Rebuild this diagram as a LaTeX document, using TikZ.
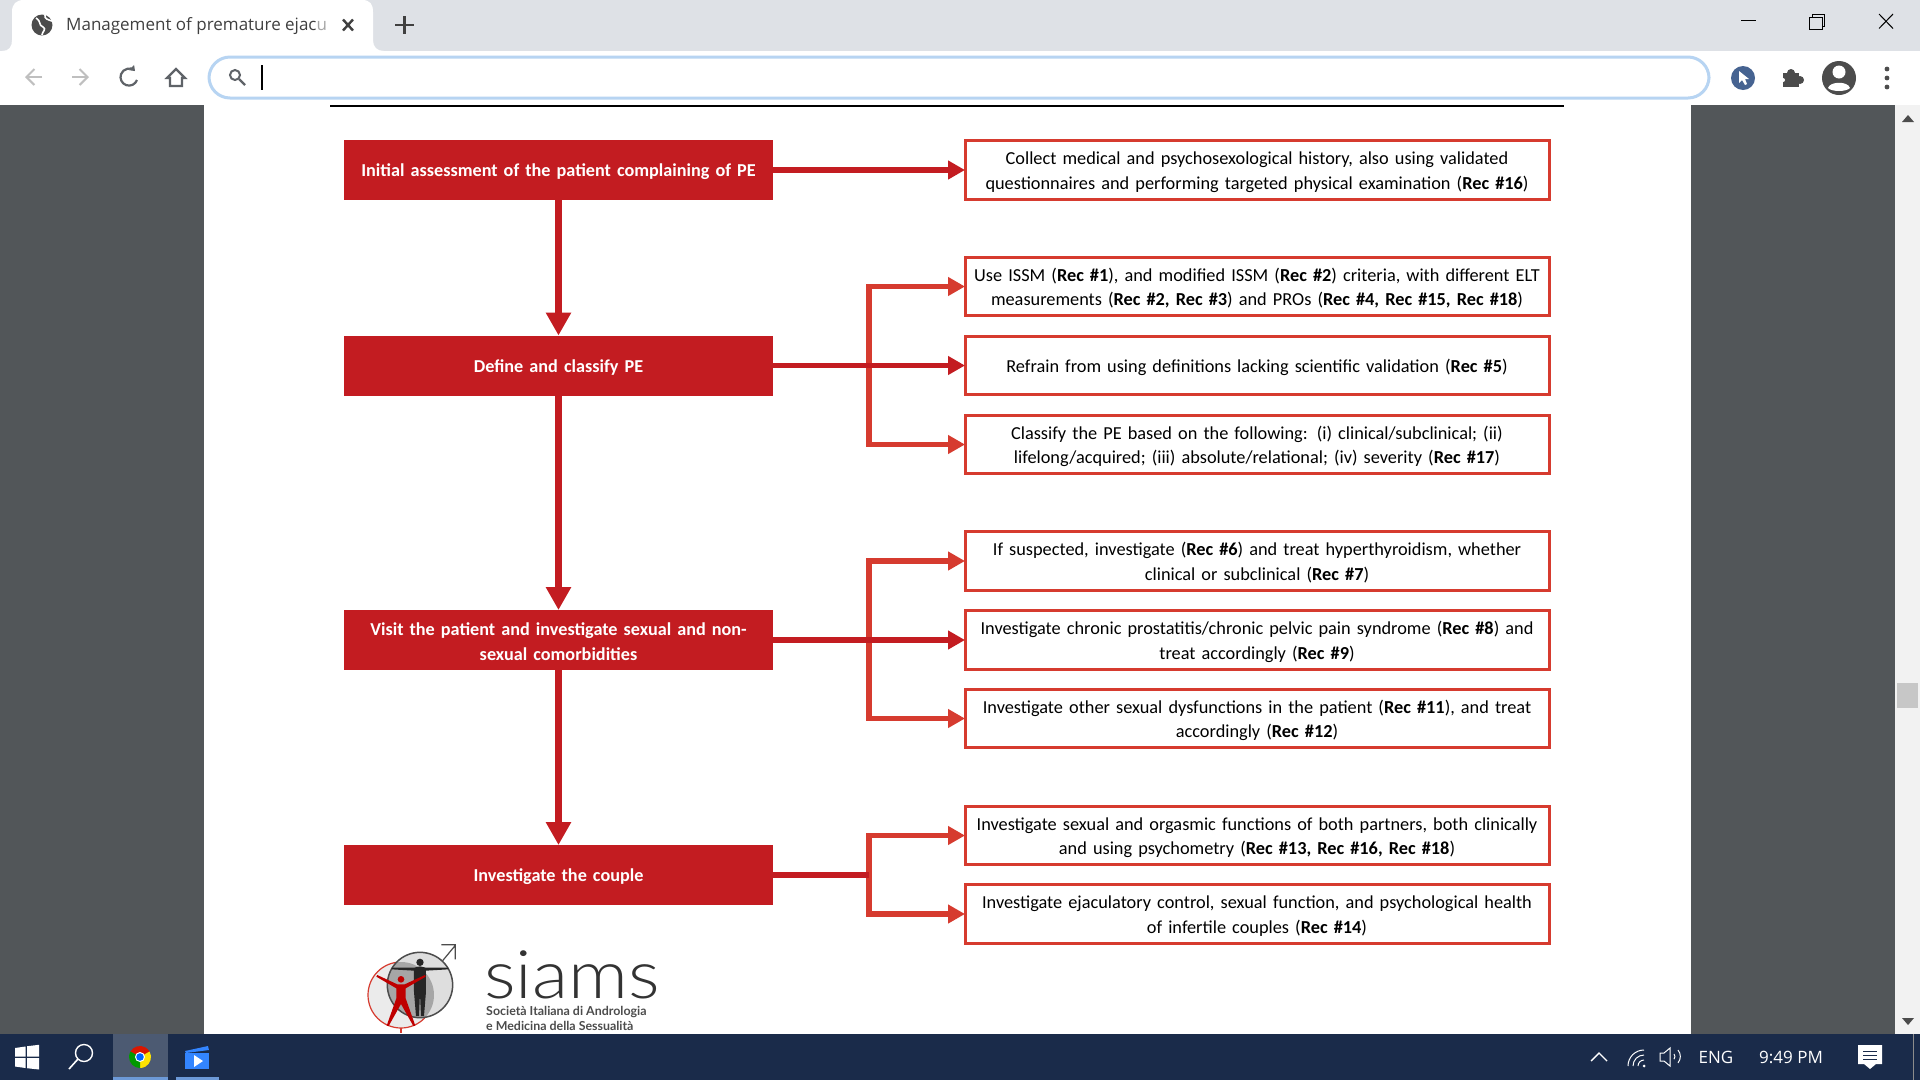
\documentclass[tikz,border=0pt]{standalone}
\usepackage{fontspec}
\setmainfont[WordSpace=0.85]{Carlito}
\newfontfamily\uifont{Open Sans}
\newfontfamily\logofont{Lato Light}
\newfontfamily\logosub{Lato}
\usetikzlibrary{arrows.meta, positioning}
\definecolor{mainred}{HTML}{C31C21}
\definecolor{sidered}{HTML}{D63B2F}
\definecolor{viewergray}{HTML}{525659}
\definecolor{tabbar}{HTML}{DEE1E6}
\definecolor{taskblue}{HTML}{1A2B4A}
\definecolor{iconblue}{HTML}{466391}
\definecolor{iconline}{HTML}{5F6368}
\definecolor{focusblue}{HTML}{B7D4F2}
\tikzset{
  stagebox/.style={fill=mainred, draw=none, minimum width=429pt, minimum height=60pt, text width=410pt, align=center,
    text=white, font=\fontsize{18.2}{24.5}\selectfont\bfseries, inner sep=0pt, outer sep=0pt,
    execute at begin node={\rule{0pt}{16.5pt}}},
  recbox/.style={fill=white, draw=sidered, line width=3pt, minimum width=584pt, minimum height=58.5pt, text width=578pt,
    align=center, text=black, font=\fontsize{18.3}{24.5}\selectfont, inner sep=0pt, outer sep=0pt,
    execute at begin node={\rule{0pt}{17pt}}},
  stemarrow/.style={draw=mainred, line width=7pt, -{Triangle[length=23pt,width=24pt]}},
  mainarrow/.style={draw=mainred, line width=5.5pt, -{Triangle[length=17pt,width=18pt]}},
  sidearrow/.style={draw=sidered, line width=5.5pt, -{Triangle[length=17pt,width=18pt]}},
  uitext/.style={font=\uifont\fontsize{17}{20}\selectfont, inner sep=0pt},
  traytext/.style={uitext, text=white},
}
\begin{document}
\begin{tikzpicture}[x=1pt,y=-1pt]
\useasboundingbox (0,0) rectangle (1920,1080);

% window
\fill [viewergray] (0,0) rectangle (1920,1080);
\fill [tabbar] (0,0) rectangle (1920,51);
\fill [white] (0,51) rectangle (1920,105);
\fill [white] (204,105) rectangle (1691,1034);
\fill [black] (330,105) rectangle (1564,107);
\fill [white!95!black] (1895,105) rectangle (1920,1034);
\fill [black!22] (1897,683) rectangle (1918,708);
\fill [black!70] (1902,122) -- (1908,115) -- (1914,122) -- cycle;
\fill [black!70] (1902,1018) -- (1908,1025) -- (1914,1018) -- cycle;

% tab
\fill [white] (2,51) .. controls (9,51) and (12,47) .. (12,40) -- (12,12)
  .. controls (12,4) and (16,0) .. (24,0) -- (362,0)
  .. controls (370,0) and (373,4) .. (373,12) -- (373,40)
  .. controls (373,47) and (377,51) .. (384,51) -- cycle;
\fill [black!70] (42,25) circle (10.5);
\draw [white, line width=1.6pt] (36,18) .. controls (42,22) and (38,25) .. (43,27) .. controls (47,29) and (42,32) .. (42,35);
\draw [white, line width=1.6pt] (45,15) .. controls (44,19) and (49,20) .. (52,21);
\node [uitext, anchor=west, text=black!75] (tabtitle) at (66,26.5) {Management of premature ejac\textcolor{black!35}{u}};
\draw [black!75, line width=2.4pt] (343,19.5) -- (353,30.5) (353,19.5) -- (343,30.5);
\draw [black!75, line width=2.4pt] (395,25) -- (414,25) (404.5,16) -- (404.5,34);

% toolbar
\draw [black!25, line width=2pt, -{Straight Barb[length=8pt,width=16pt]}] (42,77) -- (25,77);
\draw [black!25, line width=2pt, -{Straight Barb[length=8pt,width=16pt]}] (72,77) -- (89,77);
\draw [iconline, line width=2.2pt, -{Triangle[length=5pt,width=7pt]}] (137,80) arc (20:315:8.5);
\draw [iconline, line width=2.2pt] (176,69) -- (167,78) -- (170,78) -- (170,86) -- (182,86) -- (182,78) -- (185,78) -- cycle;
\draw [focusblue, line width=3pt, rounded corners=21pt] (209,57) rectangle (1709,98);
\draw [iconline, line width=2pt] (235,75) circle (5);
\draw [iconline, line width=2.4pt] (239,79) -- (245,85);
\draw [black, line width=1.4pt] (262,65) -- (262,90);
\fill [iconblue] (1743,78) circle (12);
\fill [white] (1739,71) -- (1739,83) -- (1742,80) -- (1745,85) -- (1747,84) -- (1745,79) -- (1749,79) -- cycle;
\fill [black!70] (1783,73) rectangle (1799,87);
\fill [black!70] (1791,73) circle (4) (1800,80) circle (4);
\fill [white] (1783,80) circle (2);
\fill [black!70] (1839,78) circle (17);
\fill [white] (1839,72) circle (6.5);
\fill [white] (1828,88) .. controls (1830,81) and (1848,81) .. (1850,88) .. controls (1846,92) and (1832,92) .. (1828,88);
\foreach \y in {69,78,87}
  \fill [black!70] (1887,\y) circle (2.4);

% window buttons
\draw [black, line width=1pt] (1741,20.5) -- (1756,20.5);
\draw [black, line width=1pt] (1809.5,17.5) rectangle (1822,29);
\draw [black, line width=1pt] (1812.5,17.5) -- (1812.5,14.5) -- (1824.5,14.5) -- (1824.5,26.5) -- (1822,26.5);
\draw [black, line width=1pt] (1879,14) -- (1893,28.5) (1893,14) -- (1879,28.5);

% stages
\node [stagebox] (initbox) at (558.5,170) {Initial assessment of the patient complaining of PE};
\node [stagebox] (definebox) at (558.5,365.5) {Define and classify PE};
\node [stagebox] (visitbox) at (558.5,640) {Visit the patient and investigate sexual and non-\\sexual comorbidities};
\node [stagebox] (couplebox) at (558.5,875) {Investigate the couple};

% recommendations
\node [recbox] (rechistory) at (1257,170) {Collect medical and psychosexological history, also using validated\\questionnaires and performing targeted physical examination (\textbf{Rec \#16})};
\node [recbox] (reccriteria) at (1257,286.5) {Use ISSM (\textbf{Rec \#1}), and modified ISSM (\textbf{Rec \#2}) criteria, with different ELT\\measurements (\textbf{Rec \#2, Rec \#3}) and PROs (\textbf{Rec \#4, Rec \#15, Rec \#18})};
\node [recbox] (recrefrain) at (1257,365.5) {Refrain from using definitions lacking scientific validation (\textbf{Rec \#5})};
\node [recbox] (recclassify) at (1257,444.5) {Classify the PE based on the following: (i) clinical/subclinical; (ii)\\lifelong/acquired; (iii) absolute/relational; (iv) severity (\textbf{Rec \#17})};
\node [recbox] (recthyroid) at (1257,561) {If suspected, investigate (\textbf{Rec \#6}) and treat hyperthyroidism, whether\\clinical or subclinical (\textbf{Rec \#7})};
\node [recbox] (recprostate) at (1257,640) {Investigate chronic prostatitis/chronic pelvic pain syndrome (\textbf{Rec \#8}) and\\treat accordingly (\textbf{Rec \#9})};
\node [recbox] (recdysfunction) at (1257,718.5) {Investigate other sexual dysfunctions in the patient (\textbf{Rec \#11}), and treat\\accordingly (\textbf{Rec \#12})};
\node [recbox] (recpartners) at (1257,835.5) {Investigate sexual and orgasmic functions of both partners, both clinically\\and using psychometry (\textbf{Rec \#13, Rec \#16, Rec \#18})};
\node [recbox] (recinfertile) at (1257,914) {Investigate ejaculatory control, sexual function, and psychological health\\of infertile couples (\textbf{Rec \#14})};

% connectors
\coordinate (trunk) at (869,0);
\draw [stemarrow] (initbox) -- (definebox);
\draw [stemarrow] (definebox) -- (visitbox);
\draw [stemarrow] (visitbox) -- (couplebox);
\draw [mainarrow] (initbox) -- (rechistory);
\draw [sidearrow] (trunk |- definebox) |- (reccriteria);
\draw [sidearrow] (trunk |- definebox) |- (recclassify);
\draw [mainarrow] (definebox) -- (recrefrain);
\draw [sidearrow] (trunk |- visitbox) |- (recthyroid);
\draw [sidearrow] (trunk |- visitbox) |- (recdysfunction);
\draw [mainarrow] (visitbox) -- (recprostate);
\draw [sidearrow] (trunk |- couplebox) |- (recpartners);
\draw [sidearrow] (trunk |- couplebox) |- (recinfertile);
\draw [draw=mainred, line width=5.5pt] (couplebox) -- (trunk |- couplebox);

% logo
\begin{scope}[shift={(340,930)},x=0.3333pt,y=-0.3333pt]
\draw [sidered, fill=black!8, line width=1.2pt] (183,195) circle (99);
\draw [sidered, line width=1.2pt] (183,294) -- (183,310);
\fill [black!13] (240,165) circle (98);
\begin{scope}
\clip (183,195) circle (99);
\fill [black!35] (240,165) circle (98);
\end{scope}
\draw [black!70, line width=1.5pt] (240,165) circle (98);
\draw [black!70, line width=1.2pt] (308,92) -- (346,46) (304,44) -- (346,44) -- (346,88);
\fill [black!85] (240,97) circle (11);
\fill [black!85] (155,113) -- (222,113) -- (240,109) -- (258,113) -- (325,113) -- (325,118) -- (258,122) -- (258,185) -- (252,258) -- (243,258) -- (240,190) -- (237,258) -- (228,258) -- (222,185) -- (222,122) -- (155,118) -- cycle;
\fill [red!75!black] (183,148) circle (10);
\fill [red!75!black] (112,135) -- (172,163) -- (194,163) -- (255,135) -- (257,140) -- (197,175) -- (197,205) -- (226,287) -- (220,288) -- (183,222) -- (146,288) -- (140,287) -- (169,205) -- (169,175) -- (109,140) -- cycle;
\end{scope}
\node [anchor=base west, inner sep=0pt, text=black!80, font=\logofont\fontsize{67}{67}\selectfont, xscale=1.11, transform shape] (logoname) at (484,998) {siams};
\node [anchor=base west, inner sep=0pt, text=black!70, font=\logosub\bfseries\fontsize{12.4}{14}\selectfont] (logosubtitle) at (486,1015) {Società Italiana di Andrologia};
\node [anchor=base west, inner sep=0pt, text=black!70, font=\logosub\bfseries\fontsize{12.4}{14}\selectfont] (logosubline) at (486,1030) {e Medicina della Sessualità};

% taskbar
\fill [taskblue] (0,1034) rectangle (1920,1080);
\fill [white] (15,1048) -- (25.5,1046.5) -- (25.5,1056.5) -- (15,1056.5) -- cycle;
\fill [white] (27,1046.2) -- (39,1044.8) -- (39,1056.5) -- (27,1056.5) -- cycle;
\fill [white] (15,1058) -- (25.5,1058) -- (25.5,1068) -- (15,1066.5) -- cycle;
\fill [white] (27,1058) -- (39,1058) -- (39,1069.5) -- (27,1068.2) -- cycle;
\draw [white, line width=1.4pt] (84,1053) circle (8.5);
\draw [white, line width=1.6pt] (78,1059) -- (69,1069);
\fill [white!22!taskblue] (113,1034) rectangle (168,1080);
\fill [cyan!50!blue!60!white] (113,1077) rectangle (168,1080);
\fill [cyan!50!blue!60!white] (176,1077) rectangle (219,1080);
\fill [red!80!orange!85!black] (140,1057) -- ++(-150:11) arc (-150:-30:11) -- cycle;
\fill [yellow!85!orange] (140,1057) -- ++(-30:11) arc (-30:90:11) -- cycle;
\fill [green!60!black] (140,1057) -- ++(90:11) arc (90:210:11) -- cycle;
\fill [white] (140,1057) circle (5);
\fill [blue!60!cyan] (140,1057) circle (3.8);
\fill [blue!60!cyan!80!white] (185,1053) -- (209,1053) -- (209,1069) -- (185,1069) -- cycle;
\fill [blue!60!cyan!80!white] (185,1051) -- (208,1046) -- (209,1050) -- (186,1053) -- cycle;
\fill [white] (194,1055) -- (203,1061) -- (194,1067) -- cycle;
\draw [white, line width=1.4pt] (1591,1061) -- (1599,1053) -- (1607,1061);
\fill [white] (1644,1066) circle (1.5);
\draw [white, line width=1pt] (1628,1066) arc (180:270:16) (1633,1066) arc (180:270:11) (1638,1066) arc (180:270:6);
\draw [white, line width=1pt] (1660,1053) -- (1664,1053) -- (1670,1048) -- (1670,1066) -- (1664,1061) -- (1660,1061) -- cycle;
\draw [white, line width=1pt] (1674,1054) arc (-40:40:4) (1678,1050) arc (-40:40:10);
\node [traytext] (trayeng) at (1716,1057) {ENG};
\node [traytext] (trayclock) at (1791,1057) {9:49 PM};
\fill [white] (1858,1045) rectangle (1882,1064) (1864,1064) -- (1870,1069) -- (1876,1064) -- cycle;
\foreach \y in {1051,1055,1059}
  \draw [taskblue, line width=1pt] (1863,\y) -- (1877,\y);
\fill [black!45] (1912.5,1034) rectangle (1914,1080);
\end{tikzpicture}
\end{document}
